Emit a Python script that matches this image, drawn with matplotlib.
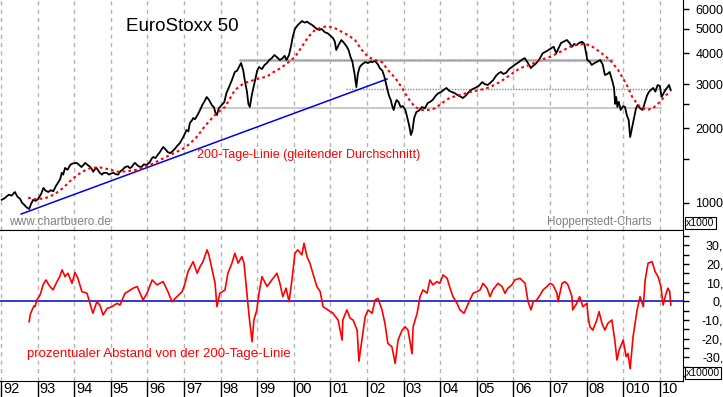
import matplotlib.pyplot as plt
from matplotlib.transforms import ScaledTranslation

plt.rcParams['font.family'] = ['Liberation Sans', 'DejaVu Sans']

# EuroStoxx 50 - Kursverlauf (Dezimaljahr, Indexpunkte)
price_t = [
    1992.02, 1992.10, 1992.16, 1992.22, 1992.29, 1992.38, 1992.45, 1992.52, 1992.58, 1992.63,
    1992.70, 1992.77, 1992.82, 1992.88, 1992.95, 1993.02, 1993.10, 1993.16, 1993.22, 1993.29,
    1993.36, 1993.43, 1993.50, 1993.57, 1993.62, 1993.66, 1993.70, 1993.75, 1993.82, 1993.89,
    1993.95, 1994.07, 1994.14, 1994.20, 1994.25, 1994.30, 1994.37, 1994.43, 1994.48, 1994.52,
    1994.57, 1994.61, 1994.66, 1994.70, 1994.76, 1994.80, 1994.89, 1994.95, 1995.02, 1995.07,
    1995.14, 1995.20, 1995.25, 1995.32, 1995.39, 1995.47, 1995.52, 1995.57, 1995.62, 1995.66,
    1995.72, 1995.78, 1995.84, 1995.90, 1995.98, 1996.07, 1996.12, 1996.16, 1996.22, 1996.28,
    1996.34, 1996.43, 1996.50, 1996.56, 1996.62, 1996.68, 1996.75, 1996.82, 1996.89, 1996.98,
    1997.07, 1997.12, 1997.16, 1997.22, 1997.25, 1997.30, 1997.37, 1997.44, 1997.50, 1997.56,
    1997.62, 1997.68, 1997.76, 1997.82, 1997.86, 1997.90, 1997.95, 1998.03, 1998.10, 1998.16,
    1998.22, 1998.31, 1998.39, 1998.45, 1998.52, 1998.56, 1998.62, 1998.66, 1998.72, 1998.76,
    1998.80, 1998.85, 1998.90, 1998.96, 1999.00, 1999.05, 1999.13, 1999.20, 1999.27, 1999.33,
    1999.40, 1999.47, 1999.54, 1999.62, 1999.68, 1999.75, 1999.80, 1999.87, 1999.93, 1999.97,
    2000.03, 2000.11, 2000.18, 2000.22, 2000.30, 2000.36, 2000.44, 2000.50, 2000.56, 2000.63,
    2000.70, 2000.76, 2000.85, 2000.93, 2001.00, 2001.07, 2001.12, 2001.16, 2001.22, 2001.30,
    2001.37, 2001.45, 2001.50, 2001.55, 2001.60, 2001.66, 2001.71, 2001.75, 2001.80, 2001.86,
    2001.95, 2002.03, 2002.10, 2002.15, 2002.22, 2002.30, 2002.35, 2002.42, 2002.48, 2002.55,
    2002.60, 2002.65, 2002.69, 2002.73, 2002.77, 2002.81, 2002.86, 2002.92, 2002.98, 2003.05,
    2003.10, 2003.15, 2003.20, 2003.24, 2003.29, 2003.35, 2003.42, 2003.50, 2003.58, 2003.66,
    2003.72, 2003.80, 2003.88, 2003.95, 2004.02, 2004.10, 2004.17, 2004.25, 2004.32, 2004.40,
    2004.47, 2004.55, 2004.62, 2004.70, 2004.78, 2004.85, 2004.95, 2005.05, 2005.15, 2005.22,
    2005.30, 2005.38, 2005.45, 2005.53, 2005.60, 2005.66, 2005.72, 2005.80, 2005.88, 2005.96,
    2006.05, 2006.15, 2006.23, 2006.31, 2006.37, 2006.43, 2006.48, 2006.53, 2006.59, 2006.65,
    2006.72, 2006.80, 2006.88, 2006.96, 2007.05, 2007.10, 2007.17, 2007.24, 2007.30, 2007.38,
    2007.46, 2007.53, 2007.60, 2007.66, 2007.73, 2007.80, 2007.88, 2007.94, 2008.02, 2008.08,
    2008.14, 2008.22, 2008.30, 2008.37, 2008.44, 2008.50, 2008.57, 2008.63, 2008.70, 2008.75,
    2008.78, 2008.81, 2008.84, 2008.88, 2008.93, 2009.00, 2009.05, 2009.10, 2009.15, 2009.19,
    2009.24, 2009.30, 2009.35, 2009.40, 2009.46, 2009.53, 2009.58, 2009.65, 2009.70, 2009.76,
    2009.82, 2009.88, 2009.94, 2010.00, 2010.05, 2010.10, 2010.15, 2010.22, 2010.25, 2010.30,
]
price = [
    1030, 1045, 1065, 1080, 1070, 1107, 1060, 1040, 1000, 985,
    960, 946, 990, 1030, 1020, 1040, 1090, 1149, 1120, 1107,
    1125, 1115, 1170, 1214, 1250, 1322, 1300, 1383, 1360, 1421,
    1440, 1449, 1420, 1394, 1421, 1449, 1420, 1400, 1370, 1335,
    1370, 1383, 1350, 1322, 1300, 1320, 1322, 1300, 1315, 1322,
    1305, 1300, 1335, 1360, 1394, 1405, 1380, 1394, 1430, 1449,
    1420, 1400, 1394, 1430, 1421, 1462, 1510, 1530, 1515, 1560,
    1600, 1679, 1640, 1600, 1587, 1610, 1650, 1700, 1742, 1840,
    1964, 1940, 2095, 2150, 2194, 2170, 2256, 2363, 2475, 2560,
    2665, 2600, 2475, 2420, 2300, 2256, 2400, 2475, 2540, 2765,
    2897, 3119, 3360, 3400, 3560, 3650, 3400, 3119, 2800, 2500,
    2430, 2700, 2920, 3200, 3400, 3517, 3450, 3584, 3650, 3753,
    3820, 3930, 3850, 3753, 3800, 3900, 3750, 3930, 4300, 4640,
    5000, 5187, 5300, 5380, 5300, 5350, 5250, 5187, 5100, 5000,
    4953, 5000, 4850, 4800, 4700, 4600, 4450, 4117, 4300, 4515,
    4400, 4240, 4100, 3860, 3700, 3300, 2920, 3300, 3517, 3600,
    3680, 3650, 3700, 3680, 3720, 3600, 3480, 3400, 3200, 2890,
    2700, 2592, 2450, 2363, 2500, 2592, 2550, 2430, 2450, 2363,
    2200, 2057, 1876, 1950, 2200, 2320, 2350, 2430, 2400, 2520,
    2545, 2600, 2700, 2760, 2790, 2850, 2897, 2820, 2790, 2760,
    2715, 2680, 2640, 2700, 2790, 2850, 2897, 2950, 3060, 3000,
    2978, 3050, 3119, 3250, 3320, 3360, 3300, 3330, 3450, 3517,
    3600, 3680, 3760, 3820, 3700, 3584, 3480, 3550, 3600, 3680,
    3800, 3995, 4050, 4117, 4200, 4240, 3995, 4200, 4390, 4450,
    4515, 4400, 4240, 4350, 4311, 4400, 4440, 4350, 3753, 3700,
    3584, 3650, 3700, 3753, 3600, 3267, 3300, 3360, 3100, 2897,
    2500, 2665, 2430, 2550, 2363, 2450, 2430, 2250, 2154, 1840,
    2000, 2215, 2400, 2475, 2400, 2363, 2500, 2700, 2790, 2850,
    2897, 2800, 2978, 2950, 2665, 2750, 2843, 2930, 2978, 2843,
]

# 200-Tage-Linie
ma_t = [
    1992.74, 1992.95, 1993.20, 1993.45, 1993.70, 1993.95, 1994.20, 1994.45, 1994.70, 1994.95,
    1995.20, 1995.45, 1995.70, 1995.95, 1996.15, 1996.43, 1996.70, 1996.97, 1997.16, 1997.36,
    1997.52, 1997.71, 1997.90, 1998.12, 1998.39, 1998.64, 1998.91, 1999.10, 1999.26, 1999.45,
    1999.64, 1999.86, 2000.03, 2000.22, 2000.39, 2000.58, 2000.77, 2000.93, 2001.13, 2001.32,
    2001.48, 2001.67, 2001.86, 2002.03, 2002.22, 2002.41, 2002.57, 2002.77, 2002.96, 2003.12,
    2003.31, 2003.50, 2003.67, 2003.86, 2004.05, 2004.27, 2004.54, 2004.81, 2005.09, 2005.36,
    2005.63, 2005.91, 2006.18, 2006.45, 2006.73, 2007.00, 2007.27, 2007.55, 2007.81, 2008.09,
    2008.37, 2008.64, 2008.86, 2009.10, 2009.26, 2009.46, 2009.65, 2009.81, 2010.00, 2010.17,
    2010.30,
]
ma = [
    1050, 1035, 1045, 1080, 1150, 1250, 1330, 1385, 1390, 1365,
    1335, 1340, 1360, 1395, 1440, 1510, 1580, 1650, 1730, 1850,
    1990, 2150, 2300, 2430, 2843, 3030, 3119, 3180, 3215, 3360,
    3480, 3680, 3860, 4240, 4640, 4953, 5080, 5130, 5030, 4860,
    4729, 4515, 4117, 3860, 3753, 3680, 3422, 3180, 2897, 2640,
    2430, 2363, 2363, 2400, 2520, 2650, 2715, 2790, 2843, 2920,
    3060, 3267, 3480, 3584, 3753, 3860, 4040, 4240, 4350, 4311,
    4040, 3753, 3422, 2978, 2640, 2430, 2363, 2400, 2545, 2715,
    2790,
]

# prozentualer Abstand von der 200-Tage-Linie
dev_t = [
    1992.77, 1992.80, 1992.85, 1992.90, 1992.93, 1992.98, 1993.07, 1993.15, 1993.23, 1993.30,
    1993.34, 1993.42, 1993.53, 1993.60, 1993.67, 1993.75, 1993.83, 1993.94, 1994.02, 1994.10,
    1994.21, 1994.35, 1994.43, 1994.51, 1994.62, 1994.70, 1994.79, 1994.90, 1995.03, 1995.17,
    1995.25, 1995.39, 1995.47, 1995.61, 1995.72, 1995.88, 1995.99, 1996.13, 1996.26, 1996.43,
    1996.56, 1996.67, 1996.81, 1996.95, 1997.03, 1997.11, 1997.25, 1997.36, 1997.44, 1997.52,
    1997.63, 1997.68, 1997.77, 1997.85, 1997.90, 1997.98, 1998.12, 1998.20, 1998.31, 1998.39,
    1998.48, 1998.58, 1998.64, 1998.72, 1998.78, 1998.86, 1998.91, 1998.99, 1999.05, 1999.13,
    1999.27, 1999.40, 1999.54, 1999.62, 1999.70, 1999.79, 1999.87, 1999.95, 2000.03, 2000.11,
    2000.22, 2000.28, 2000.36, 2000.44, 2000.52, 2000.63, 2000.72, 2000.80, 2000.93, 2001.07,
    2001.21, 2001.32, 2001.34, 2001.45, 2001.54, 2001.62, 2001.73, 2001.78, 2001.86, 2001.95,
    2002.03, 2002.14, 2002.22, 2002.30, 2002.41, 2002.49, 2002.57, 2002.68, 2002.77, 2002.85,
    2002.96, 2003.04, 2003.12, 2003.23, 2003.26, 2003.37, 2003.45, 2003.53, 2003.64, 2003.72,
    2003.80, 2003.91, 2003.99, 2004.08, 2004.19, 2004.27, 2004.35, 2004.46, 2004.54, 2004.65,
    2004.73, 2004.81, 2004.90, 2005.01, 2005.09, 2005.17, 2005.28, 2005.36, 2005.44, 2005.58,
    2005.69, 2005.77, 2005.85, 2005.96, 2006.04, 2006.18, 2006.32, 2006.40, 2006.48, 2006.54,
    2006.64, 2006.73, 2006.81, 2006.92, 2007.00, 2007.08, 2007.19, 2007.22, 2007.33, 2007.41,
    2007.49, 2007.60, 2007.62, 2007.73, 2007.81, 2007.90, 2008.01, 2008.04, 2008.09, 2008.17,
    2008.28, 2008.34, 2008.42, 2008.50, 2008.58, 2008.69, 2008.77, 2008.83, 2008.89, 2009.00,
    2009.08, 2009.13, 2009.19, 2009.27, 2009.38, 2009.46, 2009.55, 2009.60, 2009.68, 2009.79,
    2009.87, 2009.95, 2010.03, 2010.09, 2010.16, 2010.22, 2010.27, 2010.30,
]
dev = [
    -10.9, -7.0, -4.6, -2.5, -2.9, 0.7, 3.4, 8.8, 11.4, 9.0,
    7.9, 6.1, 10.5, 13.0, 16.8, 13.2, 15.0, 9.6, 15.4, 12.3,
    5.2, 4.3, -1.1, -6.4, -0.2, -2.0, -7.3, -3.8, -2.9, -1.1,
    -2.0, 4.3, 5.2, 7.0, 7.9, 0.7, 4.3, 11.4, 8.8, 10.5,
    5.2, -0.2, 2.5, 5.2, 9.6, 15.9, 21.2, 15.0, 18.6, 21.2,
    27.5, 24.8, 16.8, 9.6, -2.9, 4.3, 6.1, 15.0, 20.4, 25.7,
    20.4, 23.9, 20.4, 4.3, -8.2, -21.6, -10.0, -4.6, 4.3, 13.2,
    7.9, 11.4, 15.0, 9.6, 2.5, 7.0, -0.2, 11.4, 25.7, 27.5,
    24.8, 31.0, 23.9, 20.4, 15.0, 7.9, 5.2, -2.9, -4.6, -6.4,
    -10.0, -20.7, -10.0, -4.6, -9.1, -10.0, -15.4, -32.0, -20.7, -8.2,
    -4.6, -6.4, 0.7, 1.6, -4.6, -11.8, -22.5, -24.3, -33.2, -20.7,
    -15.4, -13.6, -15.4, -28.0, -13.6, -6.4, 2.5, 6.1, 4.3, 11.4,
    8.8, 10.5, 9.6, 14.1, 12.3, 7.0, 2.5, -1.1, -4.6, -6.4,
    -2.9, 0.7, 4.3, 5.2, 6.1, 9.6, 7.0, 2.5, 6.1, 9.6,
    7.9, 4.3, 7.0, 8.8, 11.4, 12.3, 9.6, -0.2, -4.6, -0.2,
    0.7, 3.4, 6.1, 7.9, 9.6, 8.8, 4.3, -0.2, 9.6, 10.5,
    8.8, 2.5, -4.6, -1.1, 2.5, -2.9, -1.1, -8.2, -13.6, -15.4,
    -10.0, -5.5, -11.8, -15.4, -11.8, -10.0, -20.7, -31.4, -26.0, -20.7,
    -29.6, -27.9, -36.0, -18.9, -4.6, 2.5, -2.9, 11.4, 20.4, 21.2,
    15.9, 13.2, 7.9, -2.0, 3.4, 7.0, 5.2, -2.0,
]

# Trendlinie und Widerstands-/Unterstuetzungslinien
trend_t = [1992.55, 2002.55]
trend = [903, 3148]
level_value = [3753, 2870, 2407]
level_start = [1998.50, 2001.43, 1997.41]
level_end = [2008.72, 2010.30, 2010.05]

years = list(range(1992, 2011))
year_labels = ["92", "93", "94", "95", "96", "97", "98", "99", "00", "01",
               "02", "03", "04", "05", "06", "07", "08", "010", "10"]
price_ticks = [1000, 1500, 2000, 2500, 3000, 4000, 5000, 6000]
price_labels = ["1000", "", "2000", "", "3000", "4000", "5000", "6000"]
dev_ticks = [-40, -35, -30, -25, -20, -15, -10, -5, 0, 5, 10, 15, 20, 25, 30, 35]
dev_labels = ["", "", "-30,", "", "-20,", "", "-10,", "", "0,", "", "10,", "", "20,", "", "30,", ""]

W, H = 723, 397
fig = plt.figure(figsize=(W / 100, H / 100), dpi=100)
right = 683 / W
ax = fig.add_axes([0, 1 - 230 / H, right, 230 / H])
ax2 = fig.add_axes([0, 1 - 381 / H, right, (381 - 230) / H], sharex=ax)

grid_style = dict(color="#b4b4b4", linestyle=(0, (3, 3)), linewidth=1)
for a in (ax, ax2):
    a.set_xticks(years)
    a.grid(axis="x", **grid_style)
    a.spines["left"].set_visible(False)
    a.spines["top"].set_visible(False)
    a.yaxis.tick_right()
    a.tick_params(axis="y", direction="out", length=4, width=1, pad=25, labelsize=9)
    a.set_axisbelow(True)

# --- oberes Panel: Kurs
ax.set_yscale("log")
ax.set_xlim(1991.973, 2010.634)
ax.set_ylim(779, 6536)
ax.tick_params(axis="x", length=0, labelbottom=False)
ax.set_yticks(price_ticks)
ax.set_yticklabels(price_labels)
ax.yaxis.set_minor_locator(plt.NullLocator())
for lab in ax.get_yticklabels():
    lab.set_horizontalalignment("right")

ax.hlines(level_value[0], level_start[0], level_end[0], color="#bdbdbd", lw=2.0, zorder=1)
ax.hlines(level_value[0], level_start[0], level_end[0], color="#8a8a8a", lw=0.8,
          linestyles=(0, (1, 1)), zorder=1)
ax.hlines(level_value[1], level_start[1], level_end[1], color="#8a8a8a", lw=1.0,
          linestyles=(0, (1, 1)), zorder=1)
ax.hlines(level_value[2], level_start[2], level_end[2], color="#c0c0c0", lw=1.2, zorder=1)

ax.plot(trend_t, trend, color="#0000e6", lw=1.1, zorder=2)
ax.plot(price_t, price, color="black", lw=1.3, zorder=3)
ax.plot(ma_t, ma, color="#ff0000", lw=1.5, linestyle=(0, (1.3, 1.5)), zorder=4)

ax.text(0.1845, 0.883, "EuroStoxx 50", transform=ax.transAxes, fontsize=13.5,
        va="center", ha="left")
ax.text(0.2884, 0.326, "200-Tage-Linie (gleitender Durchschnitt)", transform=ax.transAxes,
        fontsize=9, color="#ff0000", va="center", ha="left")
ax.text(0.0132, 0.035, "www.chartbuero.de", transform=ax.transAxes, fontsize=8.6,
        color="#808080", va="center", ha="left")
ax.text(0.8009, 0.035, "Hoppenstedt-Charts", transform=ax.transAxes, fontsize=8.4,
        color="#808080", va="center", ha="left")

# --- unteres Panel: Abstand zur 200-Tage-Linie
ax2.set_ylim(-42.6, 38.1)
ax2.set_yticks(dev_ticks)
ax2.set_yticklabels(dev_labels)
for lab in ax2.get_yticklabels():
    lab.set_horizontalalignment("right")
ax2.spines["top"].set_visible(True)
ax2.axhline(0, color="#0000d0", lw=1.1, zorder=2)
ax2.plot(dev_t, dev, color="#ff0000", lw=1.2, zorder=3)
ax2.text(0.0395, 0.179, "prozentualer Abstand von der 200-Tage-Linie",
         transform=ax2.transAxes, fontsize=9.5, color="#ff0000", va="center", ha="left")

ax2.set_xticklabels(year_labels)
ax2.tick_params(axis="x", direction="out", length=12, width=1, pad=-11, labelsize=10.5)
shift = ScaledTranslation(2 / 100, 0, fig.dpi_scale_trans)
for lab in ax2.get_xticklabels():
    lab.set_horizontalalignment("left")
    lab.set_verticalalignment("top")
    lab.set_transform(lab.get_transform() + shift)

box = dict(boxstyle="square,pad=0.12", fc="white", ec="black", lw=0.8)
fig.text(686 / W, 1 - 223 / H, "x1000", fontsize=7.5, va="center", ha="left", bbox=box)
fig.text(686 / W, 1 - 373 / H, "x10000", fontsize=7.5, va="center", ha="left", bbox=box)

fig.savefig("out.png", dpi=100)
